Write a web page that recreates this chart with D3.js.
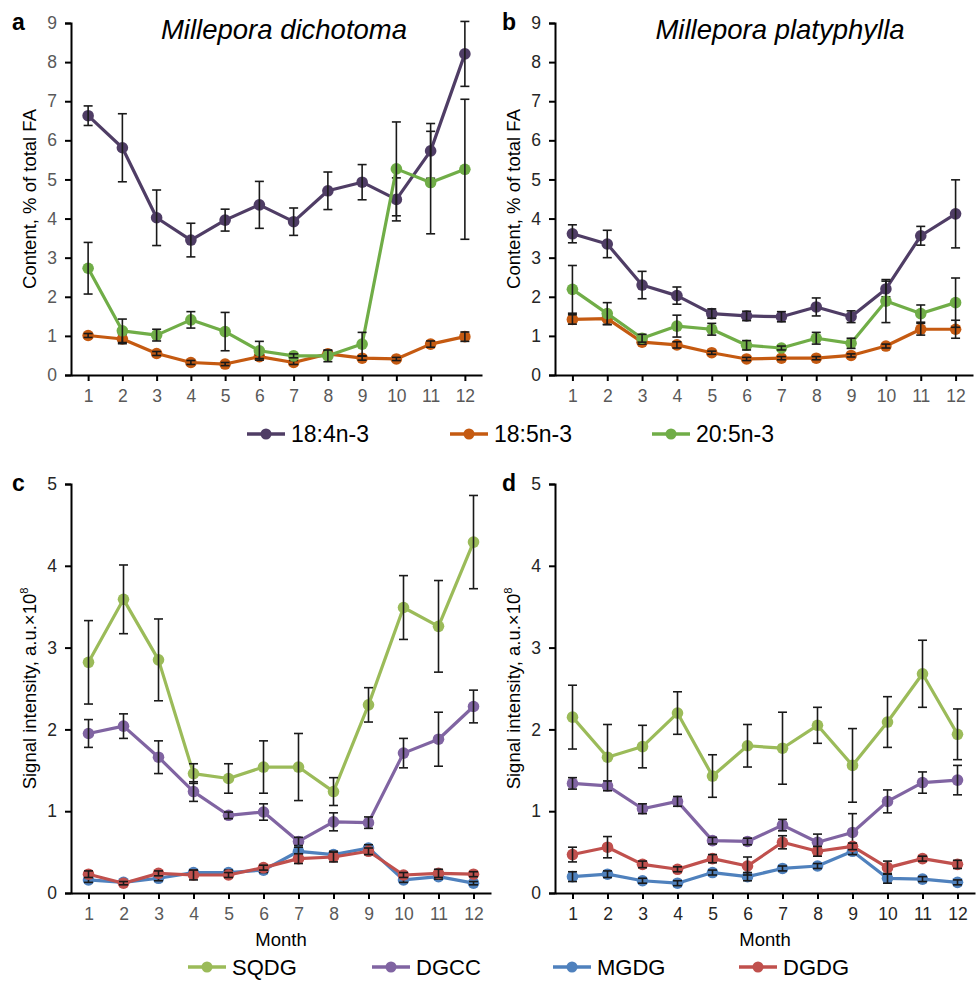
<!DOCTYPE html>
<html>
<head>
<meta charset="utf-8">
<script src="https://cdn.jsdelivr.net/npm/d3@7"></script>
<style>
  body { margin: 0; background: #fff; }
  svg { display: block; font-family: "Liberation Sans", Arial, sans-serif; }
</style>
</head>
<body>
<div id="chart"></div>
<script>
// months on the x axis
var months = [1, 2, 3, 4, 5, 6, 7, 8, 9, 10, 11, 12];

// panel a - Millepora dichotoma, fatty acids (% of total FA)
var dich_184 = [6.63, 5.81, 4.02, 3.45, 3.96, 4.35, 3.92, 4.71, 4.93, 4.49, 5.73, 8.21];
var dich_184_err = [0.25, 0.87, 0.71, 0.43, 0.28, 0.60, 0.35, 0.48, 0.45, 0.55, 0.70, 0.83];
var dich_185 = [1.01, 0.92, 0.55, 0.32, 0.28, 0.47, 0.32, 0.54, 0.43, 0.41, 0.79, 0.98];
var dich_185_err = [0.05, 0.12, 0.05, 0.05, 0.04, 0.05, 0.05, 0.08, 0.05, 0.04, 0.08, 0.12];
var dich_205 = [2.73, 1.13, 1.02, 1.41, 1.11, 0.62, 0.49, 0.49, 0.79, 5.27, 4.92, 5.26];
var dich_205_err = [0.66, 0.30, 0.15, 0.21, 0.49, 0.24, 0.05, 0.15, 0.30, 1.20, 1.31, 1.79];

// panel b - Millepora platyphylla
var plat_184 = [3.61, 3.35, 2.30, 2.03, 1.57, 1.51, 1.49, 1.74, 1.49, 2.20, 3.56, 4.12];
var plat_184_err = [0.23, 0.35, 0.35, 0.22, 0.12, 0.12, 0.13, 0.23, 0.15, 0.20, 0.24, 0.87];
var plat_185 = [1.42, 1.44, 0.84, 0.77, 0.57, 0.41, 0.43, 0.43, 0.50, 0.74, 1.17, 1.17];
var plat_185_err = [0.12, 0.15, 0.05, 0.08, 0.04, 0.04, 0.04, 0.04, 0.04, 0.05, 0.15, 0.23];
var plat_205 = [2.19, 1.57, 0.94, 1.25, 1.17, 0.76, 0.69, 0.94, 0.81, 1.89, 1.57, 1.85];
var plat_205_err = [0.61, 0.28, 0.10, 0.28, 0.15, 0.12, 0.05, 0.15, 0.13, 0.55, 0.22, 0.63];

// panel c - glycolipids, dichotoma (a.u. x 10^8)
var dich_sqdg = [2.82, 3.59, 2.85, 1.46, 1.40, 1.54, 1.54, 1.24, 2.30, 3.49, 3.26, 4.29];
var dich_sqdg_err = [0.51, 0.42, 0.50, 0.12, 0.18, 0.32, 0.41, 0.17, 0.21, 0.39, 0.56, 0.57];
var dich_dgcc = [1.95, 2.04, 1.66, 1.24, 0.95, 0.99, 0.63, 0.87, 0.86, 1.71, 1.88, 2.28];
var dich_dgcc_err = [0.17, 0.15, 0.20, 0.12, 0.04, 0.10, 0.05, 0.11, 0.07, 0.18, 0.33, 0.20];
var dich_mgdg = [0.16, 0.13, 0.18, 0.25, 0.25, 0.28, 0.51, 0.47, 0.55, 0.16, 0.20, 0.12];
var dich_mgdg_err = [0.03, 0.02, 0.03, 0.03, 0.03, 0.03, 0.05, 0.04, 0.04, 0.03, 0.03, 0.02];
var dich_dgdg = [0.23, 0.12, 0.24, 0.22, 0.22, 0.31, 0.42, 0.44, 0.51, 0.22, 0.24, 0.23];
var dich_dgdg_err = [0.04, 0.02, 0.03, 0.06, 0.03, 0.03, 0.06, 0.06, 0.04, 0.03, 0.05, 0.03];

// panel d - glycolipids, platyphylla
var plat_sqdg = [2.15, 1.66, 1.79, 2.20, 1.43, 1.80, 1.77, 2.05, 1.56, 2.09, 2.68, 1.94];
var plat_sqdg_err = [0.39, 0.40, 0.26, 0.26, 0.26, 0.26, 0.44, 0.22, 0.45, 0.31, 0.41, 0.31];
var plat_dgcc = [1.34, 1.31, 1.03, 1.12, 0.64, 0.63, 0.83, 0.62, 0.74, 1.12, 1.35, 1.38];
var plat_dgcc_err = [0.07, 0.06, 0.06, 0.06, 0.04, 0.04, 0.07, 0.10, 0.23, 0.14, 0.13, 0.18];
var plat_mgdg = [0.20, 0.23, 0.15, 0.12, 0.25, 0.20, 0.30, 0.33, 0.51, 0.18, 0.17, 0.13];
var plat_mgdg_err = [0.06, 0.04, 0.03, 0.03, 0.03, 0.05, 0.03, 0.03, 0.04, 0.06, 0.03, 0.03];
var plat_dgdg = [0.47, 0.56, 0.35, 0.29, 0.42, 0.33, 0.62, 0.51, 0.57, 0.31, 0.42, 0.35];
var plat_dgdg_err = [0.09, 0.13, 0.04, 0.03, 0.05, 0.11, 0.08, 0.06, 0.04, 0.08, 0.03, 0.05];

var fa_names = ["18:4n-3", "18:5n-3", "20:5n-3"];
var fa_colors = ["#4f3d65", "#c55a11", "#70ad47"];
var gl_names = ["SQDG", "DGCC", "MGDG", "DGDG"];
var gl_colors = ["#9bbb59", "#8064a2", "#4f81bd", "#c0504d"];

var svg = d3.select("#chart").append("svg")
    .attr("width", 977)
    .attr("height", 981);

svg.append("rect").attr("width", 977).attr("height", 981).attr("fill", "#fff");

function draw_panel(p) {
    var x = d3.scalePoint().domain(months).range([p.left, p.right]).padding(0.5);
    var y = d3.scaleLinear().domain([0, p.ymax]).range([p.bottom, p.top]);

    var g = svg.append("g");

    // y axis
    var yAxis = g.append("g")
        .attr("transform", "translate(" + p.left + ",0)")
        .call(d3.axisLeft(y).ticks(p.ymax).tickSize(6).tickPadding(8));
    yAxis.select(".domain").attr("stroke", "#000").attr("stroke-width", 2);
    yAxis.selectAll(".tick line").attr("stroke", "#000").attr("stroke-width", 2);
    yAxis.selectAll("text").attr("fill", p.ycolor).style("font-size", "17.5px");

    // x axis
    var xAxis = g.append("g")
        .attr("transform", "translate(0," + p.bottom + ")")
        .call(d3.axisBottom(x).tickSize(6).tickSizeOuter(0).tickPadding(9));
    xAxis.select(".domain").attr("stroke", "#000").attr("stroke-width", 2);
    xAxis.selectAll(".tick line").attr("stroke", "#000").attr("stroke-width", 2);
    xAxis.selectAll("text").attr("fill", p.xcolor).style("font-size", "17.5px");

    // series
    p.series.forEach(function(s) {
        var pts = months.map(function(m, i) { return {m: m, v: s.values[i], e: s.err[i]}; });
        var line = d3.line().x(function(d) { return x(d.m); }).y(function(d) { return y(d.v); });
        g.append("path").datum(pts)
            .attr("d", line)
            .attr("fill", "none")
            .attr("stroke", s.color)
            .attr("stroke-width", 3.2)
            .attr("stroke-linejoin", "round");
        g.append("g").selectAll("circle").data(pts).enter().append("circle")
            .attr("cx", function(d) { return x(d.m); })
            .attr("cy", function(d) { return y(d.v); })
            .attr("r", 5.8)
            .attr("fill", s.color);
        // error bars
        var eb = g.append("g").attr("stroke", "#1a1a1a").attr("stroke-width", 1.6);
        eb.selectAll("line.v").data(pts).enter().append("line")
            .attr("x1", function(d) { return x(d.m); })
            .attr("x2", function(d) { return x(d.m); })
            .attr("y1", function(d) { return y(d.v + d.e); })
            .attr("y2", function(d) { return y(Math.max(0, d.v - d.e)); });
        eb.selectAll("line.t").data(pts).enter().append("line")
            .attr("x1", function(d) { return x(d.m) - 4.5; })
            .attr("x2", function(d) { return x(d.m) + 4.5; })
            .attr("y1", function(d) { return y(d.v + d.e); })
            .attr("y2", function(d) { return y(d.v + d.e); });
        eb.selectAll("line.b").data(pts).enter().append("line")
            .attr("x1", function(d) { return x(d.m) - 4.5; })
            .attr("x2", function(d) { return x(d.m) + 4.5; })
            .attr("y1", function(d) { return y(Math.max(0, d.v - d.e)); })
            .attr("y2", function(d) { return y(Math.max(0, d.v - d.e)); });
    });

    // panel letter
    g.append("text")
        .attr("x", p.letter_x).attr("y", p.top + 7)
        .attr("font-weight", "bold").attr("font-size", 23)
        .text(p.letter);

    // y axis title
    var yt = g.append("text")
        .attr("transform", "translate(" + p.ylabel_x + "," + ((p.top + p.bottom) / 2) + ") rotate(-90)")
        .attr("text-anchor", "middle")
        .attr("font-size", 18.5)
        .text(p.ylabel);
    if (p.ysup) {
        yt.append("tspan").attr("dy", -8).attr("font-size", 11).text(p.ysup);
    }

    if (p.title) {
        g.append("text")
            .attr("x", p.title_x).attr("y", 39)
            .attr("text-anchor", "middle")
            .attr("font-style", "italic").attr("font-size", 27.5)
            .text(p.title);
    }
    if (p.xlabel) {
        g.append("text")
            .attr("x", (p.left + p.right) / 2).attr("y", p.bottom + 53)
            .attr("text-anchor", "middle")
            .attr("font-size", 18.5)
            .text(p.xlabel);
    }
}

function fa_series(v1, e1, v2, e2, v3, e3) {
    return [
        {values: v1, err: e1, color: fa_colors[0]},
        {values: v2, err: e2, color: fa_colors[1]},
        {values: v3, err: e3, color: fa_colors[2]}
    ];
}

function gl_series(v1, e1, v2, e2, v3, e3, v4, e4) {
    return [
        {values: v1, err: e1, color: gl_colors[0]},
        {values: v2, err: e2, color: gl_colors[1]},
        {values: v3, err: e3, color: gl_colors[2]},
        {values: v4, err: e4, color: gl_colors[3]}
    ];
}

draw_panel({
    letter: "a", letter_x: 12, left: 71, right: 482, top: 23, bottom: 375, ymax: 9,
    ycolor: "#595959", xcolor: "#595959",
    ylabel: "Content, % of total FA", ylabel_x: 36,
    title: "Millepora dichotoma", title_x: 284,
    series: fa_series(dich_184, dich_184_err, dich_185, dich_185_err, dich_205, dich_205_err)
});

draw_panel({
    letter: "b", letter_x: 502, left: 555, right: 973, top: 23, bottom: 375, ymax: 9,
    ycolor: "#262626", xcolor: "#595959",
    ylabel: "Content, % of total FA", ylabel_x: 520,
    title: "Millepora platyphylla", title_x: 780,
    series: fa_series(plat_184, plat_184_err, plat_185, plat_185_err, plat_205, plat_205_err)
});

draw_panel({
    letter: "c", letter_x: 12, left: 71, right: 491, top: 484, bottom: 893, ymax: 5,
    ycolor: "#262626", xcolor: "#595959",
    ylabel: "Signal intensity, a.u.×10", ysup: "8", ylabel_x: 36,
    xlabel: "Month",
    series: gl_series(dich_sqdg, dich_sqdg_err, dich_dgcc, dich_dgcc_err, dich_mgdg, dich_mgdg_err, dich_dgdg, dich_dgdg_err)
});

draw_panel({
    letter: "d", letter_x: 502, left: 555, right: 975, top: 484, bottom: 893, ymax: 5,
    ycolor: "#262626", xcolor: "#262626",
    ylabel: "Signal intensity, a.u.×10", ysup: "8", ylabel_x: 520,
    xlabel: "Month",
    series: gl_series(plat_sqdg, plat_sqdg_err, plat_dgcc, plat_dgcc_err, plat_mgdg, plat_mgdg_err, plat_dgdg, plat_dgdg_err)
});

// legends
function draw_legend(names, colors, xs, ly, fs) {
    var lg = svg.append("g").selectAll("g").data(names).enter().append("g")
        .attr("transform", function(d, i) { return "translate(" + xs[i] + "," + ly + ")"; });
    lg.append("line").attr("x1", 0).attr("x2", 38).attr("y1", 0).attr("y2", 0)
        .attr("stroke", function(d, i) { return colors[i]; }).attr("stroke-width", 3.5);
    lg.append("circle").attr("cx", 19).attr("cy", 0).attr("r", 5.5)
        .attr("fill", function(d, i) { return colors[i]; });
    lg.append("text").attr("x", 44).attr("y", 8).attr("font-size", fs).text(function(d) { return d; });
}

draw_legend(fa_names, fa_colors, [247, 450, 652], 434, 23);
draw_legend(gl_names, gl_colors, [188, 372, 553, 739], 967, 22);
</script>
</body>
</html>
